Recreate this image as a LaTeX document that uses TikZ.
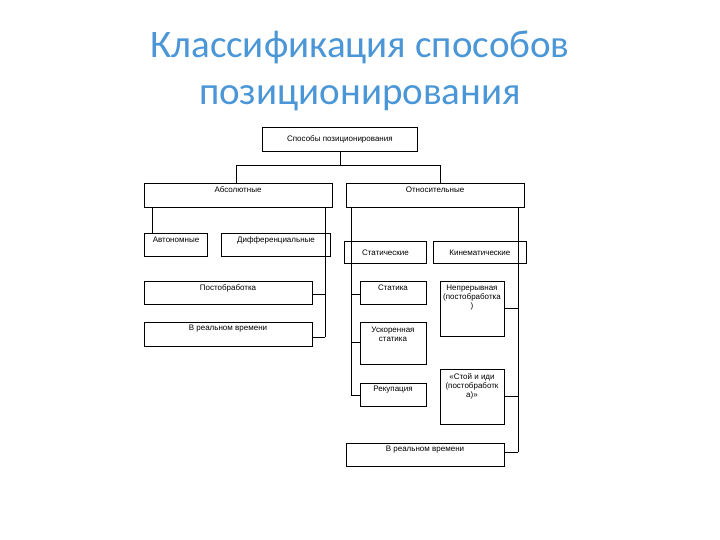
\documentclass[tikz,border=0pt]{standalone}
\usepackage{fontspec}
\setmainfont{Liberation Sans}
\newfontfamily\titlefont{Carlito}
\definecolor{ttl}{RGB}{75,150,215}
\begin{document}
\begin{tikzpicture}[x=1pt,y=-1pt,
  bx/.style={draw,line width=0.8pt,inner sep=1pt,align=center,font=\fontsize{8}{9}\selectfont,anchor=north west},
  ln/.style={line width=0.8pt}]
\useasboundingbox (0,0) rectangle (720,540);
\node[font=\titlefont\fontsize{39}{47}\selectfont,text=ttl,align=center] (title) at (360,71) {Классификация способов\\позиционирования};
\newcommand\bbox[6]{\node[bx,minimum width=#4-#2,minimum height=#5-#3] (#1) at (#2,#3) {#6};}
\bbox{top}{262}{127}{417}{151}{Способы позиционирования}
\bbox{abs}{144}{183}{332}{207}{}
\node[font=\fontsize{8}{9}\selectfont] at (238,190) {Абсолютные};
\bbox{rel}{346}{183}{524}{207}{}
\node[font=\fontsize{8}{9}\selectfont] at (435,190) {Относительные};
\bbox{avt}{144}{233}{207}{256}{}
\node[font=\fontsize{8}{9}\selectfont] at (176,240) {Автономные};
\bbox{dif}{221}{233}{330}{256}{}
\node[font=\fontsize{8}{9}\selectfont] at (276,240) {Дифференциальные};
\bbox{stat}{344}{241}{426}{263}{Статические}
\bbox{kin}{433}{241}{526}{263}{Кинематические}
\bbox{post}{144}{281}{312}{304}{}
\node[font=\fontsize{8}{9}\selectfont] at (228,288) {Постобработка};
\bbox{vr1}{144}{322}{312}{346}{}
\node[font=\fontsize{8}{9}\selectfont] at (228,329) {В реальном времени};
\bbox{sta}{360}{281}{426}{304}{}
\node[font=\fontsize{8}{9}\selectfont] at (393,288) {Статика};
\bbox{usk}{360}{322}{426}{364}{}
\node[font=\fontsize{8}{9}\selectfont,align=center] at (393,334) {Ускоренная\\статика};
\bbox{rek}{360}{383}{426}{406}{}
\node[font=\fontsize{8}{9}\selectfont] at (393,390) {Рекупация};
\bbox{nep}{440}{281}{504}{336}{}
\node[font=\fontsize{8}{9}\selectfont,align=center] at (472,298) {Непрерывная\\(постобработка\\)};
\bbox{sto}{440}{369}{504}{424}{}
\node[font=\fontsize{8}{9}\selectfont,align=center] at (472,386) {«Стой и иди\\(постобработк\\а)»};
\bbox{vr2}{346}{443}{504}{466}{}
\node[font=\fontsize{8}{9}\selectfont] at (425,450) {В реальном времени};
% connectors
\draw[ln] (top.south) -- ++(0,14) -| (236,183);
\draw[ln] (340,165) -| (440,183);
\draw[ln] (152,207) -- (152,233);
\draw[ln] (325,207) -- (325,337);
\draw[ln] (325,294) -- (post.east |- 0,294);
\draw[ln] (325,337) -- (vr1.east |- 0,337);
\draw[ln] (351,207) -- (351,395);
\draw[ln] (351,294) -- (sta.west |- 0,294);
\draw[ln] (351,342) -- (usk.west |- 0,342);
\draw[ln] (351,395) -- (rek.west |- 0,395);
\draw[ln] (518,207) -- (518,452);
\draw[ln] (518,308) -- (nep.east |- 0,308);
\draw[ln] (518,396) -- (sto.east |- 0,396);
\draw[ln] (518,452) -- (vr2.east |- 0,452);
\end{tikzpicture}
\end{document}
